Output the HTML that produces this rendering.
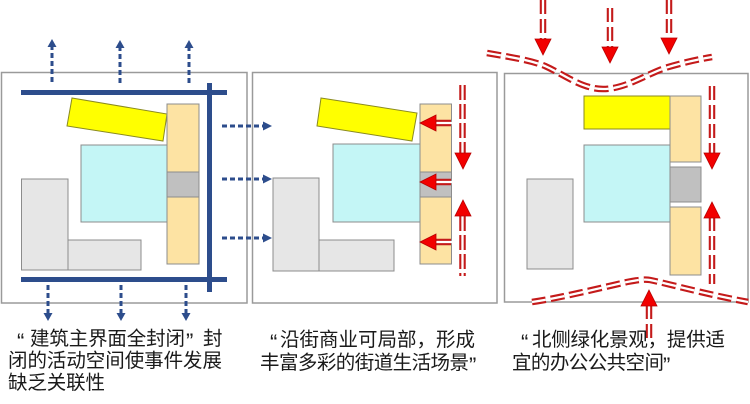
<!DOCTYPE html>
<html><head><meta charset="utf-8"><style>
html,body{margin:0;padding:0;background:#fff;width:750px;height:404px;overflow:hidden}
svg{display:block}
.t{font-family:"Liberation Sans","Noto Sans CJK SC",sans-serif;font-size:19.5px;fill:#1a1a1a}
.q{font-family:"Liberation Sans",sans-serif;font-size:22px;fill:#1a1a1a}
</style></head><body>
<svg width="750" height="404" viewBox="0 0 750 404" xmlns="http://www.w3.org/2000/svg">
<defs>
<g id="rh"><polygon points="0,0 -8,-16 8,-16" fill="#f20000" stroke="#b80000" stroke-width="0.8"/></g>
</defs>
<!-- panel borders -->
<rect x="1.5" y="72.5" width="245.5" height="230.5" fill="#fff" stroke="#9a9a9a" stroke-width="1.5"/>
<rect x="252.5" y="72.5" width="244.5" height="230.5" fill="#fff" stroke="#9a9a9a" stroke-width="1.5"/>
<rect x="504.5" y="73.5" width="243.5" height="228.5" fill="#fff" stroke="#9a9a9a" stroke-width="1.5"/>

<!-- ===== PANEL 1 ===== -->
<g stroke="#8c8c8c" stroke-width="1">
<polygon points="72,98 167,114 163,141 67,126" fill="#ffff00" stroke="#8a8a20"/>
<rect x="81" y="145" width="86" height="77" fill="#c4f6f6"/>
<rect x="167" y="104" width="32" height="160" fill="#fde3a3"/>
<rect x="167" y="172" width="32" height="25" fill="#c0c0c0"/>
<rect x="21.5" y="179" width="46.5" height="91" fill="#e6e6e6"/>
<rect x="68" y="240" width="73" height="30" fill="#e6e6e6"/>
</g>
<g fill="#2d4d8c">
<rect x="21" y="90" width="206" height="5"/>
<rect x="21" y="277" width="206" height="5"/>
<rect x="207" y="83" width="5" height="209"/>
</g>
<!-- blue dashed arrows -->
<g stroke="#2d4d8c" stroke-width="3" stroke-dasharray="5 3" fill="none">
<line x1="52" y1="82" x2="52" y2="46"/>
<line x1="120" y1="83" x2="120" y2="46"/>
<line x1="189" y1="83" x2="189" y2="46"/>
<line x1="48" y1="285" x2="48" y2="314"/>
<line x1="121" y1="285" x2="121" y2="314"/>
<line x1="186" y1="285" x2="186" y2="314"/>
<line x1="222" y1="126" x2="264" y2="126"/>
<line x1="222" y1="179" x2="264" y2="179"/>
<line x1="222" y1="238" x2="264" y2="238"/>
</g>
<g fill="#2d4d8c">
<polygon points="52,39 47.5,47 56.5,47"/>
<polygon points="120,40 115.5,48 124.5,48"/>
<polygon points="189,40 184.5,48 193.5,48"/>
<polygon points="48,321 43.5,313 52.5,313"/>
<polygon points="121,321 116.5,313 125.5,313"/>
<polygon points="186,321 181.5,313 190.5,313"/>
<polygon points="272,126 263,121.5 263,130.5"/>
<polygon points="272,179 263,174.5 263,183.5"/>
<polygon points="272,238 263,233.5 263,242.5"/>
</g>

<!-- ===== PANEL 2 ===== -->
<g stroke="#8c8c8c" stroke-width="1">
<polygon points="321,98 417,113 412,141 317,126" fill="#ffff00" stroke="#8a8a20"/>
<rect x="333" y="144" width="87" height="78" fill="#c4f6f6"/>
<rect x="420" y="104" width="31.5" height="160" fill="#fde3a3"/>
<rect x="420" y="172" width="31.5" height="25" fill="#c0c0c0"/>
<rect x="273" y="178" width="46" height="93" fill="#e6e6e6"/>
<rect x="319" y="240" width="75" height="31" fill="#e6e6e6"/>
</g>
<!-- red left arrows -->
<g stroke="#c41a1a" stroke-width="6.5" fill="none">
<line x1="434" y1="123" x2="451" y2="123"/>
<line x1="434" y1="182" x2="451" y2="182"/>
<line x1="434" y1="242" x2="451" y2="242"/>
</g>
<g stroke="#fff" stroke-width="2.3" fill="none">
<line x1="434" y1="123" x2="452" y2="123"/>
<line x1="434" y1="182" x2="452" y2="182"/>
<line x1="434" y1="242" x2="452" y2="242"/>
</g>
<use href="#rh" transform="translate(420,123) rotate(90)"/>
<use href="#rh" transform="translate(420,182) rotate(90)"/>
<use href="#rh" transform="translate(420,242) rotate(90)"/>
<!-- red vertical arrows panel 2 -->
<g fill="none" stroke-dasharray="15 4">
<path d="M462.5,85 V153" stroke="#c41a1a" stroke-width="6.5"/>
<path d="M462.5,85 V153" stroke="#fff" stroke-width="2.3"/>
<path d="M462.5,216 V276" stroke="#c41a1a" stroke-width="6.5"/>
<path d="M462.5,216 V276" stroke="#fff" stroke-width="2.3"/>
</g>
<use href="#rh" transform="translate(463,169)"/>
<use href="#rh" transform="translate(463,200) rotate(180)"/>

<!-- ===== PANEL 3 ===== -->
<g stroke="#8c8c8c" stroke-width="1">
<rect x="584" y="96" width="86" height="33" fill="#ffff00" stroke="#8a8a20"/>
<rect x="584" y="145" width="86" height="77" fill="#c4f6f6"/>
<rect x="670" y="96" width="31" height="66" fill="#fde3a3"/>
<rect x="670" y="167" width="31" height="35" fill="#c0c0c0"/>
<rect x="670" y="207" width="31" height="68" fill="#fde3a3"/>
<rect x="527" y="179" width="46" height="90" fill="#e6e6e6"/>
</g>
<!-- waves -->
<g fill="none" stroke-dasharray="14 5">
<path d="M487,53 C510,57 530,60 545,66 C565,75 582,89 603,89 C625,89 645,75 665,68 C685,62 700,59 712,57" stroke="#c41a1a" stroke-width="6.5"/>
<path d="M487,53 C510,57 530,60 545,66 C565,75 582,89 603,89 C625,89 645,75 665,68 C685,62 700,59 712,57" stroke="#fff" stroke-width="2.3"/>
<path d="M532,302 C560,298 600,288 627,282 C637,280 645,279 650,280 C670,284 700,293 748,302" stroke="#c41a1a" stroke-width="6.5"/>
<path d="M532,302 C560,298 600,288 627,282 C637,280 645,279 650,280 C670,284 700,293 748,302" stroke="#fff" stroke-width="2.3"/>
<path d="M543,0 V40 M610,8 V47 M669,0 V38" stroke="#c41a1a" stroke-width="6.5"/>
<path d="M543,0 V40 M610,8 V47 M669,0 V38" stroke="#fff" stroke-width="2.3"/>
<path d="M712,86 V153 M712,217 V284" stroke="#c41a1a" stroke-width="6.5"/>
<path d="M712,86 V153 M712,217 V284" stroke="#fff" stroke-width="2.3"/>
<path d="M649,305 V340" stroke="#c41a1a" stroke-width="6.5"/>
<path d="M649,305 V340" stroke="#fff" stroke-width="2.3"/>
</g>
<use href="#rh" transform="translate(543,55)"/>
<use href="#rh" transform="translate(610,63)"/>
<use href="#rh" transform="translate(669,54)"/>
<use href="#rh" transform="translate(712,169)"/>
<use href="#rh" transform="translate(712,202) rotate(180)"/>
<use href="#rh" transform="translate(649,290) rotate(180)"/>

<!-- ===== TEXT ===== -->
<text class="q" x="17" y="349">“</text>
<text class="t" x="30" y="345" textLength="155" lengthAdjust="spacing">建筑主界面全封闭</text>
<text class="q" x="186" y="349">”</text>
<text class="t" x="203" y="345">封</text>
<text class="t" x="8" y="367" textLength="214" lengthAdjust="spacing">闭的活动空间使事件发展</text>
<text class="t" x="8" y="389" textLength="97" lengthAdjust="spacing">缺乏关联性</text>

<text class="q" x="270" y="350">“</text>
<text class="t" x="280" y="346" textLength="195" lengthAdjust="spacing">沿街商业可局部，形成</text>
<text class="t" x="260" y="369" textLength="209" lengthAdjust="spacing">丰富多彩的街道生活场景</text>
<text class="q" x="469" y="373">”</text>

<text class="q" x="521" y="350">“</text>
<text class="t" x="532" y="346" textLength="193" lengthAdjust="spacing">北侧绿化景观，提供适</text>
<text class="t" x="512" y="369" textLength="152" lengthAdjust="spacing">宜的办公公共空间</text>
<text class="q" x="663" y="373">”</text>
</svg>
</body></html>
